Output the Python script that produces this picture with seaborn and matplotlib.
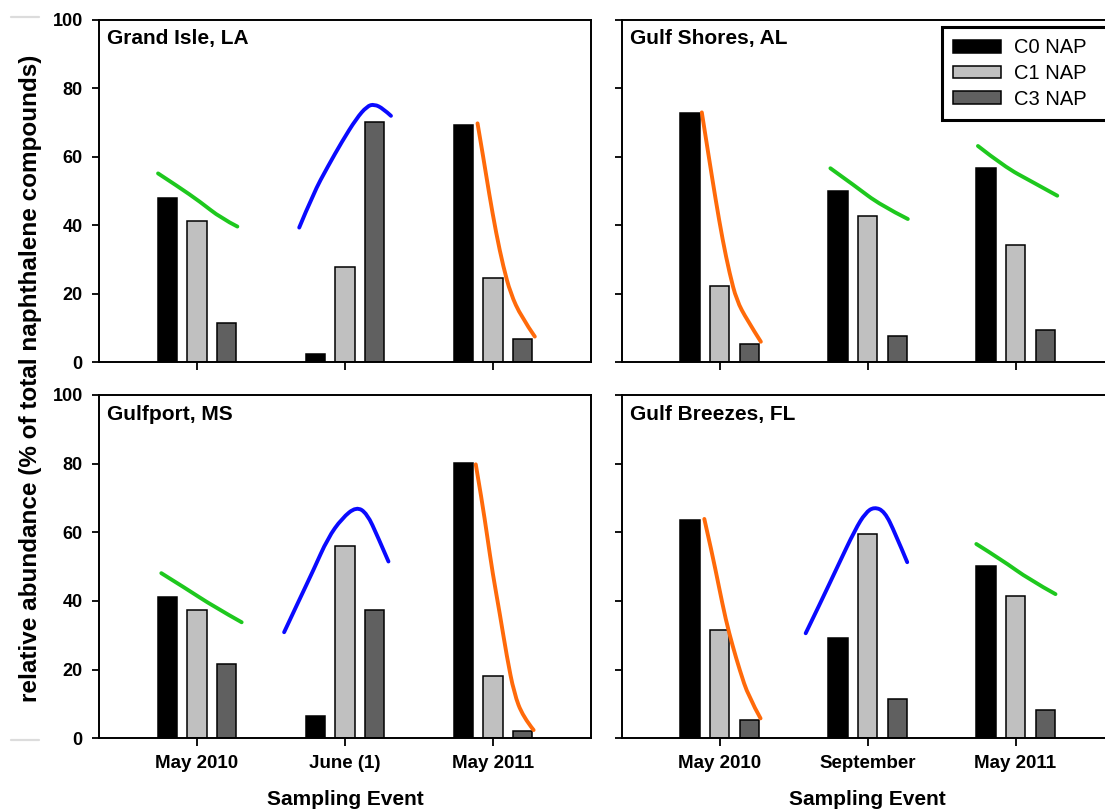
import numpy as np
import pandas as pd
import matplotlib
matplotlib.use("Agg")
import matplotlib.pyplot as plt
from matplotlib.lines import Line2D
from matplotlib.path import Path
from matplotlib.patches import PathPatch
import seaborn as sns

# ---------------------------------------------------------------- data
compounds = ["C0 NAP", "C1 NAP", "C3 NAP"]
events_west = ["May 2010", "June (1)", "May 2011"]
events_east = ["May 2010", "September", "May 2011"]

# relative abundance (% of total naphthalenes) per sampling event
grand_isle_c0 = [47.8, 2.3, 69.1]
grand_isle_c1 = [41.1, 27.9, 24.5]
grand_isle_c3 = [11.4, 70.2, 6.7]

gulf_shores_c0 = [72.7, 49.9, 56.6]
gulf_shores_c1 = [22.2, 42.6, 34.1]
gulf_shores_c3 = [5.3, 7.6, 9.3]

gulfport_c0 = [41.1, 6.4, 80.2]
gulfport_c1 = [37.3, 55.9, 18.1]
gulfport_c3 = [21.6, 37.3, 2.0]

gulf_breezes_c0 = [63.7, 29.2, 50.2]
gulf_breezes_c1 = [31.5, 59.4, 41.4]
gulf_breezes_c3 = [5.3, 11.4, 8.2]

# hand-sketched trend curves: (event index, pattern, offsets from event centre, %)
grand_isle_trends = [
    (0, "gradual", [-0.263, -0.125, 0.019, 0.164, 0.273], [55.1, 51.2, 46.9, 42.0, 39.6]),
    (1, "peak", [-0.309, -0.213, -0.116, -0.02, 0.077, 0.149, 0.198, 0.258, 0.311],
     [39.3, 49.3, 57.1, 64.4, 71.1, 74.7, 75.3, 74.0, 71.9]),
    (2, "steep", [-0.104, -0.062, -0.026, 0.022, 0.070, 0.119, 0.191, 0.283],
     [69.7, 59.0, 49.3, 37.6, 27.9, 20.1, 13.3, 7.5]),
]
gulf_shores_trends = [
    (0, "steep", [-0.12, -0.073, -0.026, 0.021, 0.068, 0.115, 0.185, 0.279],
     [72.9, 60.0, 47.3, 35.6, 25.9, 18.1, 12.4, 6.0]),
    (1, "gradual", [-0.251, -0.08, 0.085, 0.272], [56.6, 51.3, 45.9, 41.8]),
    (2, "gradual", [-0.254, -0.077, 0.11, 0.282], [63.1, 57.1, 52.7, 48.6]),
]
gulfport_trends = [
    (0, "gradual", [-0.241, -0.077, 0.116, 0.302], [48.1, 43.7, 38.3, 33.8]),
    (1, "peak", [-0.411, -0.309, -0.213, -0.116, -0.02, 0.077, 0.149, 0.222, 0.294],
     [30.9, 40.3, 49.0, 58.3, 64.1, 67.5, 65.5, 58.7, 51.5]),
    (2, "steep", [-0.116, -0.075, -0.038, -0.002, 0.046, 0.094, 0.143, 0.203, 0.275],
     [79.8, 69.4, 58.7, 48.1, 36.4, 23.8, 13.1, 6.3, 2.4]),
]
gulf_breezes_trends = [
    (0, "steep", [-0.103, -0.051, -0.005, 0.042, 0.089, 0.136, 0.195, 0.277],
     [63.9, 54.0, 44.3, 34.5, 26.8, 19.9, 12.2, 5.8]),
    (1, "peak", [-0.418, -0.319, -0.202, -0.084, -0.014, 0.045, 0.115, 0.186, 0.268],
     [30.6, 39.4, 50.1, 60.8, 65.7, 67.4, 66.1, 59.8, 51.3]),
    (2, "gradual", [-0.265, -0.094, 0.094, 0.27], [56.6, 52.0, 46.2, 42.0]),
]

# ---------------------------------------------------------------- style
bar_colors = {"C0 NAP": "#000000", "C1 NAP": "#c0c0c0", "C3 NAP": "#606060"}
trend_colors = {"gradual": "#1ec81e", "peak": "#0a0aff", "steep": "#ff6a0a"}

sns.set_style("ticks")
plt.rcParams["font.family"] = ["Liberation Sans", "DejaVu Sans"]
plt.rcParams["axes.linewidth"] = 1.4
for key in ("text.color", "axes.labelcolor", "xtick.color", "ytick.color",
            "axes.edgecolor"):
    plt.rcParams[key] = "black"

W, H = 1105, 810
fig = plt.figure(figsize=(W / 100, H / 100), dpi=100)
fig.patch.set_facecolor("white")


def add_panel(x0, y0, x1, y1):
    return fig.add_axes([x0 / W, 1 - y1 / H, (x1 - x0) / W, (y1 - y0) / H])


def smooth_stroke(ax, xs, ys, color):
    """Draw a freehand-looking stroke: quadratic Bezier pieces joined at midpoints."""
    pts = np.column_stack([xs, ys])
    verts = [pts[0]]
    codes = [Path.MOVETO]
    if len(pts) == 2:
        verts.append(pts[1])
        codes.append(Path.LINETO)
    else:
        for i in range(1, len(pts) - 1):
            end = pts[i + 1] if i == len(pts) - 2 else (pts[i] + pts[i + 1]) / 2
            verts += [pts[i], end]
            codes += [Path.CURVE3, Path.CURVE3]
    ax.add_patch(PathPatch(Path(verts, codes), facecolor="none", edgecolor=color,
                           lw=2.8, capstyle="round", joinstyle="round", zorder=4))


panels = [
    ("Grand Isle, LA", events_west, (grand_isle_c0, grand_isle_c1, grand_isle_c3),
     grand_isle_trends, add_panel(99.3, 19.5, 590.6, 362.3), True, False),
    ("Gulf Shores, AL", events_east, (gulf_shores_c0, gulf_shores_c1, gulf_shores_c3),
     gulf_shores_trends, add_panel(621.9, 19.5, 1113.2, 362.3), False, False),
    ("Gulfport, MS", events_west, (gulfport_c0, gulfport_c1, gulfport_c3),
     gulfport_trends, add_panel(99.3, 395.0, 590.6, 738.3), True, True),
    ("Gulf Breezes, FL", events_east, (gulf_breezes_c0, gulf_breezes_c1, gulf_breezes_c3),
     gulf_breezes_trends, add_panel(621.9, 395.0, 1113.2, 738.3), False, True),
]

legend_handles = None
for title, events, series, trends, ax, show_y, show_x in panels:
    df = pd.DataFrame({
        "event": events * len(compounds),
        "compound": np.repeat(compounds, len(events)),
        "value": np.concatenate(series),
    })
    sns.barplot(data=df, x="event", y="value", hue="compound", order=events,
                hue_order=compounds, palette=bar_colors, width=0.6, gap=0.35,
                edgecolor="black", linewidth=1.1, errorbar=None, ax=ax)
    if legend_handles is None:
        legend_handles = ax.get_legend_handles_labels()
    if ax.get_legend() is not None:
        ax.get_legend().remove()

    for idx, kind, dx, vals in trends:
        smooth_stroke(ax, idx + np.asarray(dx), np.asarray(vals), trend_colors[kind])

    ax.set_xlim(-0.66, 2.66)
    ax.set_ylim(0, 100)
    ax.set_yticks(range(0, 101, 20))
    ax.set_xlabel("")
    ax.set_ylabel("")
    for s in ax.spines.values():
        s.set_visible(True)
        s.set_linewidth(1.4)
        s.set_color("black")
    ax.tick_params(axis="y", direction="out", length=5, width=1.3, pad=7,
                   labelleft=show_y, labelsize=13, colors="black")
    ax.tick_params(axis="x", direction="out", length=6, width=1.3, pad=6,
                   labelbottom=show_x, labelsize=13.5, colors="black")
    for lab in ax.get_xticklabels() + ax.get_yticklabels():
        lab.set_fontweight("bold")

    ax.text(0.016, 0.972, title, transform=ax.transAxes, ha="left", va="top",
            fontsize=15, fontweight="bold", color="black")

    if show_x:
        ax.set_xlabel("Sampling Event", fontsize=15, fontweight="bold", color="black")
        ax.xaxis.label.set_va("center")
        ax.xaxis.set_label_coords(0.5, -0.177)

fig.text(31 / W, 1 - 378 / H,
         "relative abundance (% of total naphthalene compounds)",
         rotation=90, ha="center", va="center", fontsize=17.5, fontweight="bold",
         color="black")

handles, labels = legend_handles
leg = fig.legend(handles, labels, loc="upper left",
                 bbox_to_anchor=(941.7 / W, 1 - 27.3 / H, (1115 - 941.7) / W, 0.0),
                 mode="expand", borderaxespad=0, frameon=True, fancybox=False,
                 edgecolor="black", framealpha=1, prop={"size": 14.5},
                 handlelength=2.4, handleheight=0.6, handletextpad=0.65,
                 labelspacing=0.33, borderpad=0.55)
leg.get_frame().set_linewidth(2.2)
for t in leg.get_texts():
    t.set_color("black")

# faint rule marks at the left margin
for yy in (17, 740):
    fig.add_artist(Line2D([11 / W, 39 / W], [1 - yy / H] * 2, color="#dcdcdc", lw=1.6))

fig.savefig("out.png", dpi=100, facecolor="white")
